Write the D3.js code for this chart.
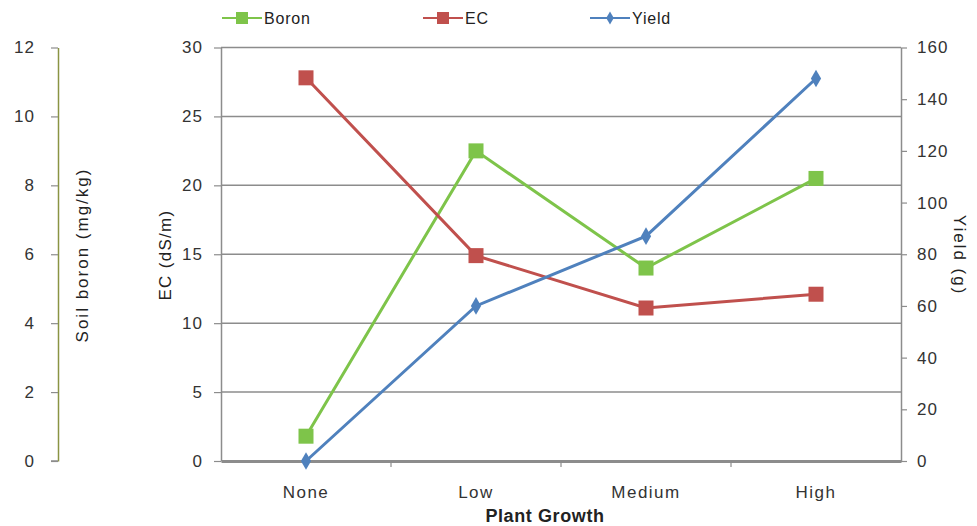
<!DOCTYPE html>
<html><head><meta charset="utf-8">
<script src="https://cdn.jsdelivr.net/npm/d3@7"></script>
<style>body{margin:0;background:#fff}svg text{font-family:"Liberation Sans",Arial,sans-serif}</style>
</head><body><svg id="c" width="977" height="526"></svg>
<script>
const categories = ["None","Low","Medium","High"];
const boron = [0.72, 9.0, 5.6, 8.2];
const ec = [27.8, 14.9, 11.1, 12.1];
const yieldG = [0, 60, 87, 148];
const boronTicks = [0,2,4,6,8,10,12];
const ecTicks = [0,5,10,15,20,25,30];
const yieldTicks = [0,20,40,60,80,100,120,140,160];

const svg = d3.select("#c");
const L = 221, R = 901, T = 47.5, B = 461;
const x = d3.scaleBand().domain(categories).range([L, R]);
const yEC = d3.scaleLinear().domain([0,30]).range([B, T]);
const yB = d3.scaleLinear().domain([0,12]).range([B, T]);
const yY = d3.scaleLinear().domain([0,160]).range([B, T]);
const cx = d => x(d) + x.bandwidth()/2;
const gray = "#8c8c8c", txt = "#333";

// gridlines
svg.append("g").selectAll("line").data(ecTicks.filter(d=>d>0)).join("line")
  .attr("x1", L).attr("x2", R).attr("y1", d=>yEC(d)).attr("y2", d=>yEC(d))
  .attr("stroke", gray).attr("stroke-width", 1.5);

function styleAxis(g, lineColor){
  g.selectAll("text").attr("font-size", 17).attr("letter-spacing", 1).attr("fill", txt);
  g.selectAll(".tick line").attr("stroke", gray).attr("stroke-width", 1.2);
  g.select(".domain").attr("stroke", lineColor||gray).attr("stroke-width", 1.5);
}
// EC axis
svg.append("g").attr("transform", `translate(${L},0)`)
  .call(d3.axisLeft(yEC).tickValues(ecTicks).tickSize(7).tickSizeOuter(0).tickPadding(11))
  .call(g=>styleAxis(g));
// Boron axis
svg.append("g").attr("transform", `translate(58,0)`)
  .call(d3.axisLeft(yB).tickValues(boronTicks).tickSize(7).tickSizeOuter(0).tickPadding(16))
  .call(g=>styleAxis(g, "#8a9443"));
// Yield axis
svg.append("g").attr("transform", `translate(${R},0)`)
  .call(d3.axisRight(yY).tickValues(yieldTicks).tickSize(6).tickSizeOuter(0).tickPadding(10))
  .call(g=>styleAxis(g));
// bottom axis
const xb = svg.append("g").attr("transform", `translate(0,${B})`)
  .call(d3.axisBottom(x).tickSize(0).tickPadding(25));
xb.select(".domain").attr("stroke", gray).attr("stroke-width", 3);
xb.selectAll("text").attr("font-size", 17).attr("letter-spacing", 1.5).attr("fill", txt);
svg.append("g").selectAll("line").data(categories.slice(1)).join("line")
  .attr("x1", d=>x(d)).attr("x2", d=>x(d)).attr("y1", B).attr("y2", B+6)
  .attr("stroke", gray).attr("stroke-width", 1.2);
// boron bottom
svg.append("line").attr("x1",51).attr("x2",58).attr("y1",B).attr("y2",B).attr("stroke",gray).attr("stroke-width",1.5);

const series = [
  {name:"Boron", vals: boron, y: yB, color:"#7ec44a", shape:"square"},
  {name:"EC", vals: ec, y: yEC, color:"#c0504d", shape:"square"},
  {name:"Yield", vals: yieldG, y: yY, color:"#4f81bd", shape:"diamond"}
];
const line = d3.line();
series.forEach(s=>{
  const pts = categories.map((c,i)=>[cx(c), s.y(s.vals[i])]);
  svg.append("path").attr("d", line(pts)).attr("fill","none").attr("stroke", s.color).attr("stroke-width", 3);
  pts.forEach(p=>{
    if (s.shape==="square") svg.append("rect").attr("x",p[0]-7.5).attr("y",p[1]-7.5).attr("width",15).attr("height",15).attr("fill",s.color);
    else svg.append("path").attr("d", d3.symbol(d3.symbolDiamond, 90)()).attr("transform",`translate(${p[0]},${p[1]})`).attr("fill",s.color);
  });
});

// legend
const legX = [222, 423, 590];
series.forEach((s,i)=>{
  const g = svg.append("g").attr("transform",`translate(${legX[i]},18)`);
  g.append("line").attr("x1",0).attr("x2",40).attr("stroke",s.color).attr("stroke-width",2);
  if (s.shape==="square") g.append("rect").attr("x",14).attr("y",-6).attr("width",12).attr("height",12).attr("fill",s.color);
  else g.append("path").attr("d", d3.symbol(d3.symbolDiamond, 50)()).attr("transform","translate(20,0)").attr("fill",s.color);
  g.append("text").attr("x",42).attr("y",6).attr("font-size",16).attr("letter-spacing",0.8).attr("fill","#222").text(s.name);
});

// axis titles
svg.append("text").attr("transform","translate(88,255) rotate(-90)").attr("text-anchor","middle")
  .attr("font-size",17).attr("letter-spacing",2).attr("fill","#222").text("Soil boron (mg/kg)");
svg.append("text").attr("transform","translate(171,255) rotate(-90)").attr("text-anchor","middle")
  .attr("font-size",17).attr("letter-spacing",1.3).attr("fill","#222").text("EC (dS/m)");
svg.append("text").attr("transform","translate(954,255) rotate(90)").attr("text-anchor","middle")
  .attr("font-size",17).attr("letter-spacing",2).attr("fill","#222").text("Yield (g)");
svg.append("text").attr("x",545).attr("y",522).attr("text-anchor","middle")
  .attr("font-size",18).attr("font-weight","bold").attr("letter-spacing",0.6).attr("fill","#222").text("Plant Growth");
</script></body></html>
